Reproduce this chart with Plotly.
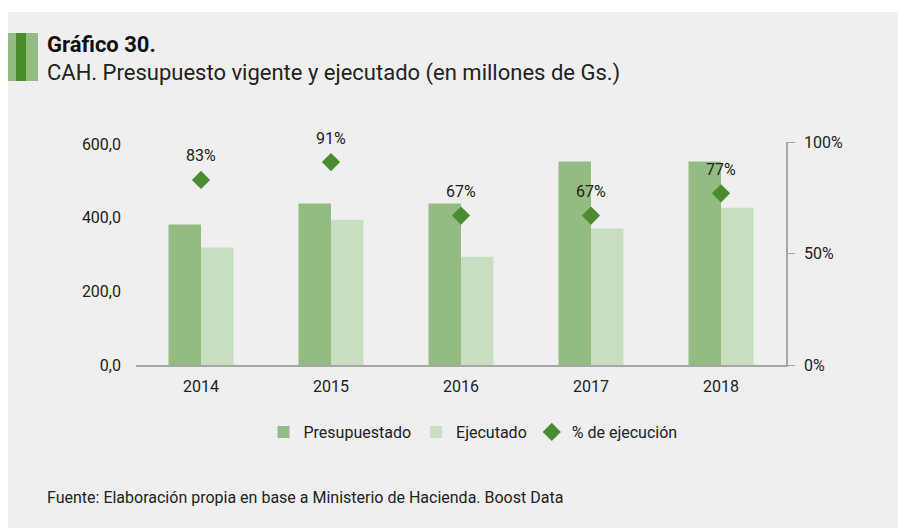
import plotly.graph_objects as go

years = ["2014", "2015", "2016", "2017", "2018"]
presupuestado = [382, 439, 439, 553, 553]
ejecutado = [319, 395, 294, 371, 427]
pct_ejecucion = [0.83, 0.91, 0.67, 0.67, 0.77]
pct_labels = ["83%", "91%", "67%", "67%", "77%"]

# page has an 8px body margin; coordinates below are window pixels
OFF = 8
W, H = 906 - OFF, 528 - OFF
L, R, T, B = 136 - OFF, 786 - OFF, 142 - OFF, 365 - OFF

def px_x(x):
    return (x - OFF - L) / (R - L)

def px_y(y):
    return (B - (y - OFF)) / (B - T)

FONT = "Roboto"
C_PRES = "#93bb82"
C_EJEC = "#c9ddc0"
C_DIAM = "#4a8c2f"

fig = go.Figure()
fig.add_trace(go.Bar(x=years, y=presupuestado, name="Presupuestado",
                     marker=dict(color=C_PRES, line=dict(width=0))))
fig.add_trace(go.Bar(x=years, y=ejecutado, name="Ejecutado",
                     marker=dict(color=C_EJEC, line=dict(width=0))))
fig.add_trace(go.Scatter(x=years, y=pct_ejecucion, name="% de ejecución", yaxis="y2",
                         mode="markers", cliponaxis=False,
                         marker=dict(symbol="diamond", size=14, color=C_DIAM)))

shapes = [
    dict(type="rect", xref="paper", yref="paper", x0=px_x(8), x1=px_x(910),
         y0=px_y(532), y1=px_y(12), fillcolor="#efefef", line=dict(width=0), layer="below"),
    dict(type="rect", xref="paper", yref="paper", x0=px_x(8), x1=px_x(16),
         y0=px_y(81), y1=px_y(33), fillcolor=C_PRES, line=dict(width=0)),
    dict(type="rect", xref="paper", yref="paper", x0=px_x(16), x1=px_x(26),
         y0=px_y(81), y1=px_y(33), fillcolor="#4a8c2a", line=dict(width=0)),
    dict(type="rect", xref="paper", yref="paper", x0=px_x(26), x1=px_x(38),
         y0=px_y(81), y1=px_y(33), fillcolor=C_PRES, line=dict(width=0)),
]

annotations = [
    dict(text="<b>Gráfico 30.</b>", xref="paper", yref="paper", x=px_x(45), y=px_y(44),
         xanchor="left", yanchor="middle", showarrow=False,
         font=dict(family=FONT, size=22, color="#111111")),
    dict(text="CAH. Presupuesto vigente y ejecutado (en millones de Gs.)", xref="paper", yref="paper",
         x=px_x(45), y=px_y(73), xanchor="left", yanchor="middle", showarrow=False,
         font=dict(family=FONT, size=22, color="#222222")),
    dict(text="Fuente: Elaboración propia en base a Ministerio de Hacienda. Boost Data",
         xref="paper", yref="paper", x=px_x(45), y=px_y(497), xanchor="left", yanchor="middle",
         showarrow=False, font=dict(family=FONT, size=16, color="#222222")),
]
for i, (v, lab) in enumerate(zip(pct_ejecucion, pct_labels)):
    annotations.append(dict(text=lab, x=i, y=v, xref="x", yref="y2", showarrow=False,
                            yshift=24, xanchor="center", yanchor="middle",
                            font=dict(family=FONT, size=16, color="#222222")))

fig.update_layout(
    width=W, height=H,
    margin=dict(l=L, r=W - R, t=T, b=H - B, pad=0),
    paper_bgcolor="white", plot_bgcolor="rgba(0,0,0,0)",
    font=dict(family=FONT, size=16, color="#222222"),
    barmode="group", bargap=0.5, bargroupgap=0,
    showlegend=True,
    legend=dict(orientation="h", x=px_x(473), xanchor="center", y=px_y(432), yanchor="middle",
                font=dict(family=FONT, size=16, color="#222222"), bgcolor="rgba(0,0,0,0)",
                itemwidth=30, tracegroupgap=0),
    xaxis=dict(type="category", range=[-0.5, len(years) - 0.5], showline=True,
               linecolor="#a6a6a6", linewidth=2, ticks="",
               showgrid=False, ticklabelstandoff=6,
               tickfont=dict(family=FONT, size=16, color="#222222"), zeroline=False),
    yaxis=dict(range=[0, 606], tickvals=[0, 200, 400, 600],
               ticktext=["0,0", "200,0", "400,0", "600,0"], showgrid=False, zeroline=False,
               showline=False, ticks="", ticklabelstandoff=14,
               tickfont=dict(family=FONT, size=16, color="#222222")),
    yaxis2=dict(range=[0, 1], overlaying="y", side="right", tickvals=[0, 0.5, 1],
                ticktext=["0%", "50%", "100%"], showgrid=False, zeroline=False,
                showline=True, linecolor="#a6a6a6", linewidth=1.5, ticks="outside",
                ticklen=7, tickcolor="#a6a6a6", ticklabelstandoff=6,
                tickfont=dict(family=FONT, size=16, color="#222222")),
    shapes=shapes, annotations=annotations,
)

fig.write_html("out.html")
